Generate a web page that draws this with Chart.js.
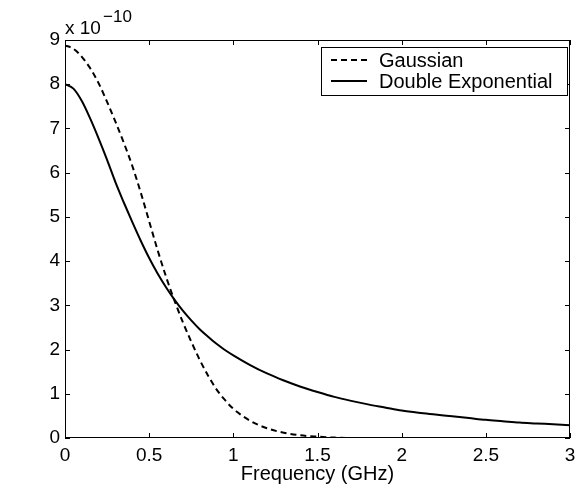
<!DOCTYPE html>
<html>
<head>
<meta charset="utf-8">
<script src="https://cdn.jsdelivr.net/npm/chart.js@4.4.0/dist/chart.umd.min.js"></script>
<style>
  html, body { margin: 0; padding: 0; background: #fff; }
  #wrap { width: 576px; height: 487px; }
</style>
</head>
<body>
<div id="wrap"><canvas id="psdChart" width="576" height="487"></canvas></div>
<script>
// frequency in GHz, values in units of 1e-10
const freqs = [0, 0.05, 0.1, 0.15, 0.2, 0.25, 0.3, 0.35, 0.4, 0.45, 0.5,
               0.55, 0.6, 0.65, 0.7, 0.75, 0.8, 0.85, 0.9, 0.95, 1.0,
               1.1, 1.2, 1.3, 1.4, 1.5, 1.6, 1.7, 1.8, 1.9, 2.0,
               2.1, 2.2, 2.3, 2.4, 2.5, 2.6, 2.7, 2.8, 2.9, 3.0];
const gaussian = [8.88, 8.8, 8.62, 8.36, 8.02, 7.6, 7.15, 6.67, 6.15, 5.55, 4.9,
                  4.25, 3.65, 3.11, 2.62, 2.18, 1.77, 1.41, 1.1, 0.86, 0.66,
                  0.39, 0.22, 0.12, 0.06, 0.03, 0.01, 0, 0, 0, 0,
                  0, 0, 0, 0, 0, 0, 0, 0, 0, 0];
const doubleExp = [8.0, 7.9, 7.62, 7.22, 6.77, 6.29, 5.78, 5.32, 4.88, 4.46, 4.07,
                   3.72, 3.41, 3.13, 2.88, 2.66, 2.46, 2.29, 2.13, 1.99, 1.87,
                   1.65, 1.46, 1.3, 1.16, 1.04, 0.93, 0.84, 0.76, 0.69, 0.62,
                   0.57, 0.53, 0.49, 0.45, 0.41, 0.38, 0.35, 0.33, 0.31, 0.29];
const xTicks = [0, 0.5, 1, 1.5, 2, 2.5, 3];
const yTicks = [0, 1, 2, 3, 4, 5, 6, 7, 8, 9];

const FONT = 'Liberation Sans, Arial, Helvetica, sans-serif';

function toPoints(ys) {
  return freqs.map((x, i) => ({ x: x, y: ys[i] }));
}

// MATLAB style frame: box, inward ticks on all four sides, legend, exponent label
const framePlugin = {
  id: 'frame',
  afterDraw(chart) {
    const ctx = chart.ctx;
    const a = chart.chartArea;
    const xs = chart.scales.x, ys = chart.scales.y;
    ctx.save();
    ctx.strokeStyle = '#000';
    ctx.lineWidth = 1;
    ctx.strokeRect(a.left + 0.5, a.top + 0.5, a.right - a.left - 1, a.bottom - a.top - 1);
    ctx.beginPath();
    xTicks.forEach(v => {
      const px = Math.round(xs.getPixelForValue(v)) + 0.5;
      ctx.moveTo(px, a.bottom); ctx.lineTo(px, a.bottom - 5);
      ctx.moveTo(px, a.top); ctx.lineTo(px, a.top + 5);
    });
    yTicks.forEach(v => {
      const py = Math.round(ys.getPixelForValue(v)) + 0.5;
      ctx.moveTo(a.left, py); ctx.lineTo(a.left + 5, py);
      ctx.moveTo(a.right, py); ctx.lineTo(a.right - 5, py);
    });
    ctx.stroke();

    // exponent label
    ctx.fillStyle = '#000';
    ctx.textBaseline = 'alphabetic';
    ctx.textAlign = 'left';
    ctx.font = '19px ' + FONT;
    ctx.fillText('x 10', a.left, a.top - 6);
    ctx.font = '17px ' + FONT;
    ctx.fillText('\u221210', a.left + 38, a.top - 18);

    // legend
    const bx = 321, by = 47, bw = 246, bh = 48;
    ctx.fillStyle = '#fff';
    ctx.fillRect(bx, by, bw, bh);
    ctx.strokeRect(bx + 0.5, by + 0.5, bw, bh);
    ctx.font = '20px ' + FONT;
    ctx.textBaseline = 'middle';
    chart.data.datasets.forEach((ds, i) => {
      const ly = by + 13 + i * 21;
      ctx.beginPath();
      ctx.setLineDash(ds.borderDash || []);
      ctx.lineWidth = ds.borderWidth;
      ctx.moveTo(bx + 10, ly); ctx.lineTo(bx + 46, ly);
      ctx.stroke();
      ctx.setLineDash([]);
      ctx.fillStyle = '#000';
      ctx.fillText(ds.label, bx + 58, ly + 1);
    });
    ctx.restore();
  }
};

const chart = new Chart(document.getElementById('psdChart'), {
  type: 'line',
  data: {
    datasets: [
      {
        label: 'Gaussian',
        data: toPoints(gaussian),
        borderColor: '#000',
        borderWidth: 2,
        borderDash: [6, 4],
        pointRadius: 0,
        cubicInterpolationMode: 'monotone',
        fill: false
      },
      {
        label: 'Double Exponential',
        data: toPoints(doubleExp),
        borderColor: '#000',
        borderWidth: 2,
        pointRadius: 0,
        cubicInterpolationMode: 'monotone',
        fill: false
      }
    ]
  },
  options: {
    responsive: false,
    animation: false,
    layout: { padding: { top: 40, right: 6, left: 0, bottom: 0 } },
    plugins: {
      legend: { display: false },
      tooltip: { enabled: false }
    },
    scales: {
      x: {
        type: 'linear',
        min: 0,
        max: 3,
        afterFit: s => { s.height = 49; s.paddingLeft = 0; s.paddingRight = 0; },
        afterBuildTicks: s => { s.ticks = xTicks.map(v => ({ value: v })); },
        grid: { display: false, drawTicks: false },
        border: { display: false },
        ticks: {
          color: '#000',
          padding: 6,
          maxRotation: 0,
          font: { family: FONT, size: 19 },
          callback: v => String(v)
        },
        title: {
          display: true,
          text: 'Frequency (GHz)',
          color: '#000',
          padding: { top: 0, bottom: 1 },
          font: { family: FONT, size: 20 }
        }
      },
      y: {
        min: 0,
        max: 9,
        afterFit: s => { s.width = 65; s.paddingTop = 0; s.paddingBottom = 0; },
        afterBuildTicks: s => { s.ticks = yTicks.map(v => ({ value: v })); },
        grid: { display: false, drawTicks: false },
        border: { display: false },
        ticks: {
          color: '#000',
          padding: 5,
          font: { family: FONT, size: 19 },
          callback: v => String(v)
        }
      }
    }
  },
  plugins: [framePlugin]
});
</script>
</body>
</html>
